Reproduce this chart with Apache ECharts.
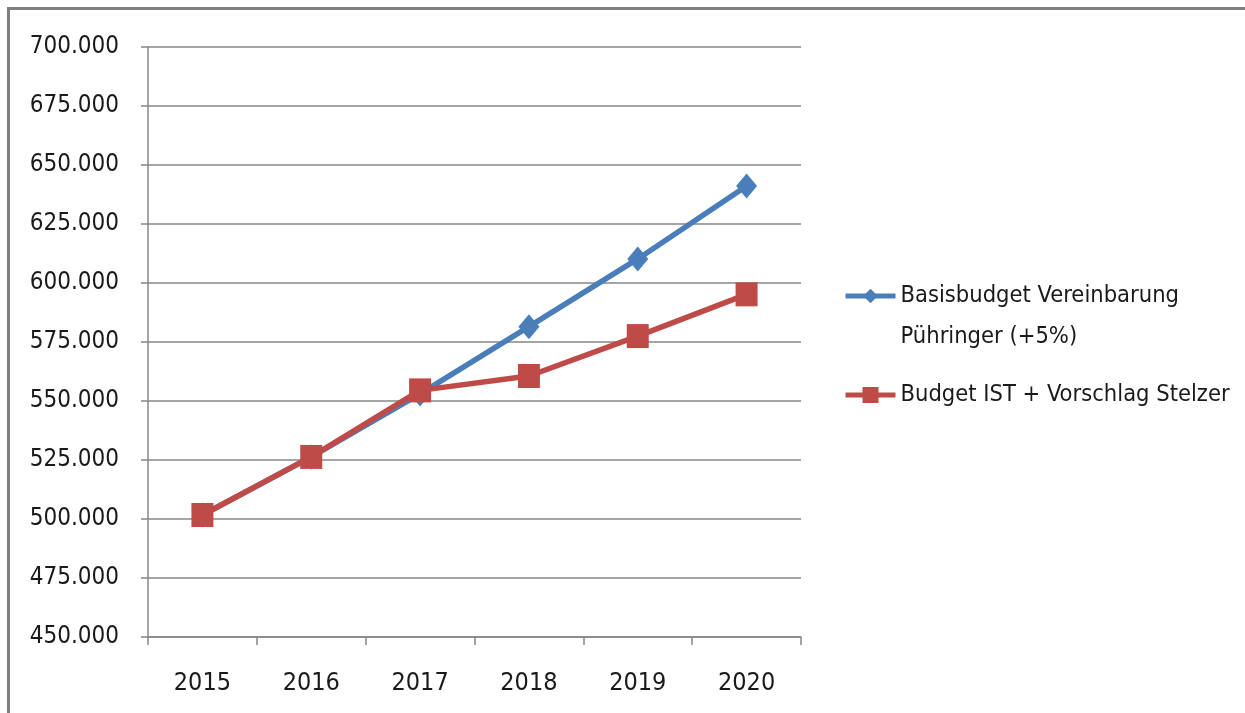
<!DOCTYPE html>
<html>
<head>
<meta charset="utf-8">
<script src="https://cdn.jsdelivr.net/npm/echarts@6/dist/echarts.min.js"></script>
<style>
  html, body { margin: 0; padding: 0; background: #ffffff; overflow: hidden; }
  #frame { position: absolute; left: 7px; top: 7px; width: 1300px; height: 800px;
           border-left: 3px solid #7f7f7f; border-top: 3px solid #7f7f7f; box-sizing: border-box; }
  #chart { position: absolute; left: 0; top: 0; width: 1245px; height: 713px; }
</style>
</head>
<body>
<div id="frame"></div>
<div id="chart"></div>
<script>
const categories = ['2015', '2016', '2017', '2018', '2019', '2020'];
const seriesNames = ['Basisbudget Vereinbarung Pühringer (+5%)', 'Budget IST + Vorschlag Stelzer'];
const legendLines1 = ['Basisbudget Vereinbarung', 'Pühringer (+5%)'];
const basisbudget = [501700, 526300, 553000, 581500, 610200, 641100];
const budgetIst = [501700, 526300, 554500, 560600, 577500, 595200];
const yMin = 450000, yMax = 700000, yStep = 25000;

const FONT = "'Liberation Sans Narrow', 'DejaVu Sans Condensed', 'Liberation Sans', sans-serif";
const gridColor = '#878787';
const textColor = '#1a1a1a';
const blue = '#4A7EBB';
const red = '#BE4B48';

function fmtDE(v) {
  return String(Math.round(v)).replace(/\B(?=(\d{3})+(?!\d))/g, '.');
}

const chart = echarts.init(document.getElementById('chart'), null, { renderer: 'canvas' });
chart.setOption({
  backgroundColor: 'transparent',
  animation: false,
  grid: { left: 148, right: 444, top: 47, bottom: 76, containLabel: false },
  legend: [
    {
      data: [seriesNames[0]],
      formatter: function () { return '\n' + legendLines1.join('\n'); },
      left: 843, top: 234.5, padding: 0,
      itemWidth: 50, itemHeight: 18, itemGap: 0,
      lineStyle: { width: 5 },
      textStyle: { fontFamily: FONT, fontSize: 23.5, color: textColor, lineHeight: 41 }
    },
    {
      data: [seriesNames[1]],
      left: 843, top: 374.5, padding: 0,
      itemWidth: 50, itemHeight: 20, itemGap: 0,
      lineStyle: { width: 5 },
      textStyle: { fontFamily: FONT, fontSize: 23.5, color: textColor, lineHeight: 41 }
    }
  ],
  xAxis: {
    type: 'category',
    data: categories,
    boundaryGap: true,
    axisLine: { show: true, lineStyle: { color: gridColor, width: 1.5 } },
    axisTick: { show: true, length: 8, alignWithLabel: false, lineStyle: { color: gridColor, width: 1.5 } },
    axisLabel: { fontFamily: FONT, fontSize: 25, color: textColor, margin: 34 },
    splitLine: { show: false }
  },
  yAxis: {
    type: 'value',
    min: yMin, max: yMax, interval: yStep,
    axisLine: { show: true, lineStyle: { color: gridColor, width: 1.5 } },
    axisTick: { show: true, length: 7, lineStyle: { color: gridColor, width: 1.5 } },
    axisLabel: { fontFamily: FONT, fontSize: 24, color: textColor, margin: 29, formatter: fmtDE },
    splitLine: { show: true, lineStyle: { color: gridColor, width: 1.5 } }
  },
  series: [
    {
      name: seriesNames[0],
      type: 'line',
      data: basisbudget,
      symbol: 'diamond',
      symbolSize: [21, 25],
      lineStyle: { color: blue, width: 5.5 },
      itemStyle: { color: blue },
      z: 2
    },
    {
      name: seriesNames[1],
      type: 'line',
      data: budgetIst,
      symbol: 'rect',
      symbolSize: [22, 24],
      lineStyle: { color: red, width: 5.5 },
      itemStyle: { color: red },
      z: 3
    }
  ]
});
</script>
</body>
</html>
